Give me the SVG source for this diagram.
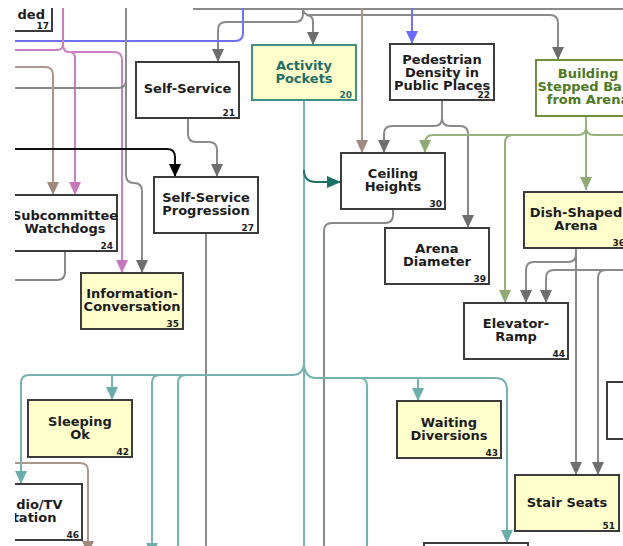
<svg xmlns="http://www.w3.org/2000/svg" width="623" height="546" viewBox="0 0 623 546">
<defs>
<style>
.nd rect{fill:#ffffff;stroke:#3c3c3c;stroke-width:2}
.nd.y rect{fill:#ffffcc}
.t{font-family:'DejaVu Sans','Noto Sans',sans-serif;font-weight:bold;font-size:13px;fill:#1c1c1c;text-anchor:middle}
.num{font-size:9px;text-anchor:end}
.act rect{stroke:#3f9080}
.act .t{fill:#1f6e63}
.bld rect{stroke:#6e9040}
.bld .t{fill:#4d7a1e}
.e path{fill:none;stroke-width:2}
.g{stroke:#8a8a8a}
.pk{stroke:#cc80c2}
.bl{stroke:#7070ff}
.tp{stroke:#ad978c}
.tl{stroke:#74b3b0}
.dt{stroke:#1d7068}
.ol{stroke:#98b27e}
.bk{stroke:#111111}
</style>
<marker id="ag" markerUnits="userSpaceOnUse" markerWidth="13" markerHeight="12" viewBox="0 0 13 12" refX="13" refY="6" orient="auto"><path d="M0,0 L13,6 L0,12 z" fill="#6e6e6e"/></marker>
<marker id="apk" markerUnits="userSpaceOnUse" markerWidth="13" markerHeight="12" viewBox="0 0 13 12" refX="13" refY="6" orient="auto"><path d="M0,0 L13,6 L0,12 z" fill="#c878bd"/></marker>
<marker id="abl" markerUnits="userSpaceOnUse" markerWidth="13" markerHeight="12" viewBox="0 0 13 12" refX="13" refY="6" orient="auto"><path d="M0,0 L13,6 L0,12 z" fill="#6a6aff"/></marker>
<marker id="atp" markerUnits="userSpaceOnUse" markerWidth="13" markerHeight="12" viewBox="0 0 13 12" refX="13" refY="6" orient="auto"><path d="M0,0 L13,6 L0,12 z" fill="#a08a7e"/></marker>
<marker id="atl" markerUnits="userSpaceOnUse" markerWidth="13" markerHeight="12" viewBox="0 0 13 12" refX="13" refY="6" orient="auto"><path d="M0,0 L13,6 L0,12 z" fill="#6aaeab"/></marker>
<marker id="adt" markerUnits="userSpaceOnUse" markerWidth="14" markerHeight="12" viewBox="0 0 14 12" refX="14" refY="6" orient="auto"><path d="M0,0 L14,6 L0,12 z" fill="#1d7068"/></marker>
<marker id="aol" markerUnits="userSpaceOnUse" markerWidth="13" markerHeight="12" viewBox="0 0 13 12" refX="13" refY="6" orient="auto"><path d="M0,0 L13,6 L0,12 z" fill="#90aa74"/></marker>
<marker id="abk" markerUnits="userSpaceOnUse" markerWidth="13" markerHeight="12" viewBox="0 0 13 12" refX="13" refY="6" orient="auto"><path d="M0,0 L13,6 L0,12 z" fill="#000000"/></marker>
<clipPath id="vp"><rect x="15" y="8" width="608" height="538"/></clipPath>
</defs>
<rect x="0" y="0" width="623" height="546" fill="#ffffff"/>
<g clip-path="url(#vp)">
<g id="connectors" class="e">
<path class="g" d="M193 9 H623"/>
<path class="g" d="M303 8 V14 Q303 22 295 22 H226 Q218 22 218 30 V62" marker-end="url(#ag)"/>
<path class="g" d="M303 8 Q303 15 310 15 H550 Q558 15 558 23 V60" marker-end="url(#ag)"/>
<path class="g" d="M306 15 Q313 15 313 22 V45" marker-end="url(#ag)"/>
<path class="tp" d="M362 8 V153" marker-end="url(#atp)"/>
<path class="bl" d="M412 8 V44" marker-end="url(#abl)"/>
<path class="bl" d="M15 41 H235 Q243 41 243 33 V8"/>
<path class="pk" d="M63 8 V44 Q63 50 57 50 H15"/>
<path class="pk" d="M63 44 Q63 52 69 52 Q75 52 75 58 V195" marker-end="url(#apk)"/>
<path class="pk" d="M69 52 H114 Q122 52 122 60 V273" marker-end="url(#apk)"/>
<path class="g" d="M126 8 V175 Q126 183 134 183 Q142 183 142 191 V273" marker-end="url(#ag)"/>
<path class="g" d="M15 88 H118 Q126 88 126 80"/>
<path class="tp" d="M15 67 H45 Q53 67 53 75 V195" marker-end="url(#atp)"/>
<path class="bk" d="M15 149 H167 Q175 149 175 157 V177" marker-end="url(#abk)"/>
<path class="g" d="M188 118 V134 Q188 142 196 142 H209 Q217 142 217 150 V177" marker-end="url(#ag)"/>
<path class="g" d="M65 251 V272 Q65 280 57 280 H15"/>
<path class="g" d="M206 233 V546"/>
<path class="g" d="M442 100 V118 Q442 126 434 126 H392 Q384 126 384 134 V153" marker-end="url(#ag)"/>
<path class="g" d="M442 118 Q442 126 450 126 H460 Q468 126 468 134 V228" marker-end="url(#ag)"/>
<path class="g" d="M393 209 V215 Q393 223 385 223 H332 Q324 223 324 231 V546"/>
<path class="g" d="M576 248 V254 Q576 262 568 262 H534 Q526 262 526 270 V303" marker-end="url(#ag)"/>
<path class="g" d="M576 254 V475" marker-end="url(#ag)"/>
<path class="g" d="M623 270 H554 Q546 270 546 278 V303" marker-end="url(#ag)"/>
<path class="g" d="M606 270 Q598 270 598 278 V475" marker-end="url(#ag)"/>
<path class="tp" d="M15 463 H80 Q88 463 88 471 V554" marker-end="url(#atp)"/>
<path class="ol" d="M586 116 V190" marker-end="url(#aol)"/>
<path class="ol" d="M586 127 Q586 135 578 135 H433 Q425 135 425 143 V153" marker-end="url(#aol)"/>
<path class="ol" d="M586 127 Q586 135 594 135 H623"/>
<path class="ol" d="M513 135 Q505 135 505 143 V303" marker-end="url(#aol)"/>
<path class="tl" d="M304 100 V546"/>
<path class="dt" d="M304 170 Q304 182 316 182 H341" marker-end="url(#adt)"/>
<path class="tl" d="M304 362 Q304 375 292 375 H29 Q21 375 21 383 V484" marker-end="url(#atl)"/>
<path class="tl" d="M112 375 V400" marker-end="url(#atl)"/>
<path class="tl" d="M160 375 Q152 375 152 383 V556" marker-end="url(#atl)"/>
<path class="tl" d="M186 375 Q178 375 178 383 V600" marker-end="url(#atl)"/>
<path class="tl" d="M304 362 Q304 378 316 378 H495 Q507 378 507 390 V543" marker-end="url(#atl)"/>
<path class="tl" d="M418 378 V401" marker-end="url(#atl)"/>
<path class="tl" d="M360 378 Q367 378 367 386 V600" marker-end="url(#atl)"/>
</g>
<g id="n17" class="nd"><rect x="-52" y="-25" width="104" height="56"/><text class="t" x="45" y="19" style="text-anchor:end">ded</text><text class="t num" x="49" y="29">17</text></g>
<g id="n21" class="nd"><rect x="136" y="62" width="103" height="56"/><text class="t" x="187.5" y="93">Self-Service</text><text class="t num" x="235" y="116">21</text></g>
<g id="n20" class="nd y act"><rect x="252" y="45" width="104" height="55"/><text class="t" x="304" y="70">Activity</text><text class="t" x="304" y="83">Pockets</text><text class="t num" x="352" y="98">20</text></g>
<g id="n22" class="nd"><rect x="390" y="44" width="104" height="56"/><text class="t" x="442" y="63.5">Pedestrian</text><text class="t" x="442" y="76.5">Density in</text><text class="t" x="442" y="89.5">Public Places</text><text class="t num" x="490" y="98">22</text></g>
<g id="nbld" class="nd bld"><rect x="536" y="60" width="104" height="56"/><text class="t" x="588" y="78">Building</text><text class="t" x="537.5" y="91" style="text-anchor:start">Stepped Ba</text><text class="t" x="588" y="104">from Arena</text></g>
<g id="n24" class="nd"><rect x="13" y="195" width="104" height="56"/><text class="t" x="65" y="220">Subcommittee</text><text class="t" x="65" y="233">Watchdogs</text><text class="t num" x="113" y="249">24</text></g>
<g id="n27" class="nd"><rect x="154" y="177" width="104" height="56"/><text class="t" x="206" y="202">Self-Service</text><text class="t" x="206" y="215">Progression</text><text class="t num" x="254" y="231">27</text></g>
<g id="n35" class="nd y"><rect x="81" y="273" width="102" height="56"/><text class="t" x="132" y="298">Information-</text><text class="t" x="132" y="311">Conversation</text><text class="t num" x="179" y="327">35</text></g>
<g id="n30" class="nd"><rect x="341" y="153" width="104" height="56"/><text class="t" x="393" y="178">Ceiling</text><text class="t" x="393" y="191">Heights</text><text class="t num" x="442" y="207">30</text></g>
<g id="n36" class="nd y"><rect x="524" y="192" width="104" height="56"/><text class="t" x="576" y="217">Dish-Shaped</text><text class="t" x="576" y="230">Arena</text><text class="t num" x="625" y="246">36</text></g>
<g id="n39" class="nd"><rect x="385" y="228" width="104" height="56"/><text class="t" x="437" y="253">Arena</text><text class="t" x="437" y="266">Diameter</text><text class="t num" x="486" y="282">39</text></g>
<g id="n44" class="nd"><rect x="464" y="303" width="104" height="56"/><text class="t" x="516" y="328">Elevator-</text><text class="t" x="516" y="341">Ramp</text><text class="t num" x="565" y="357">44</text></g>
<g id="n42" class="nd y"><rect x="28" y="400" width="104" height="57"/><text class="t" x="80" y="426">Sleeping</text><text class="t" x="80" y="439">Ok</text><text class="t num" x="129" y="455">42</text></g>
<g id="n43" class="nd y"><rect x="397" y="401" width="104" height="57"/><text class="t" x="449" y="426.5">Waiting</text><text class="t" x="449" y="439.5">Diversions</text><text class="t num" x="498" y="456">43</text></g>
<g id="n51" class="nd y"><rect x="515" y="475" width="104" height="56"/><text class="t" x="567" y="507">Stair Seats</text><text class="t num" x="615" y="529">51</text></g>
<g id="n46" class="nd"><rect x="-22" y="484" width="104" height="56"/><text class="t" x="62.5" y="508.5" style="text-anchor:end">dio/TV</text><text class="t" x="56.5" y="521.5" style="text-anchor:end">tation</text><text class="t num" x="79" y="538">46</text></g>
<g id="nright" class="nd"><rect x="607" y="382" width="104" height="57"/></g>
<g id="nbottom" class="nd"><rect x="424" y="543" width="104" height="56"/></g>
</g>
</svg>
